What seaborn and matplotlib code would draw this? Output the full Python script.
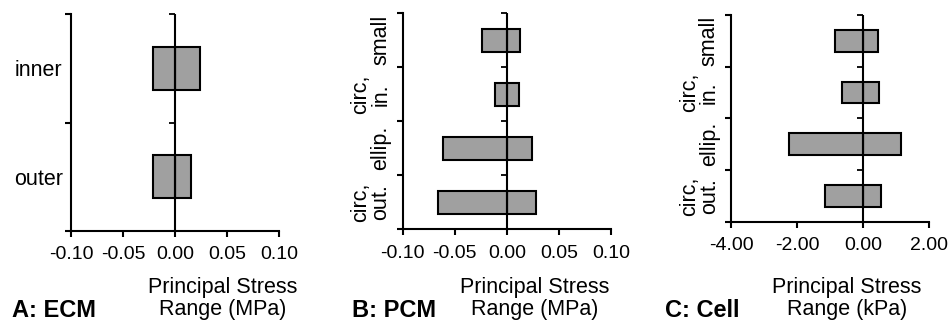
import matplotlib
matplotlib.use("Agg")
import matplotlib.pyplot as plt
import numpy as np
import pandas as pd
import seaborn as sns

sns.set_style("white")
plt.rcParams["font.family"] = ["Liberation Sans", "DejaVu Sans"]
plt.rcParams["text.color"] = "black"
plt.rcParams["xtick.color"] = "black"
plt.rcParams["ytick.color"] = "black"

# panel A: ECM
ecm_labels = ["inner", "outer"]
ecm_min = [-0.021, -0.021]
ecm_max = [0.024, 0.015]

# panel B: PCM
pcm_labels = ["small", "circ,\nin.", "ellip.", "circ,\nout."]
pcm_min = [-0.024, -0.011, -0.061, -0.066]
pcm_max = [0.013, 0.012, 0.024, 0.028]

# panel C: Cell
cell_labels = ["small", "circ,\nin.", "ellip.", "circ,\nout."]
cell_min = [-0.86, -0.64, -2.25, -1.16]
cell_max = [0.45, 0.49, 1.13, 0.54]

ecm_ticks = [-0.10, -0.05, 0.00, 0.05, 0.10]
pcm_ticks = [-0.10, -0.05, 0.00, 0.05, 0.10]
cell_ticks = [-4.0, -2.0, 0.0, 2.0]

BAR_COLOR = "#a0a0a0"


def range_panel(ax, labels, lo, hi, xticks, rotate, title, xlabel, bar_h,
                title_x, label_x):
    # floating bar drawn as two halves meeting at zero
    df = pd.DataFrame({"cat": labels, "lo": lo, "hi": hi})
    for col in ["hi", "lo"]:
        sns.barplot(data=df, x=col, y="cat", orient="h", color=BAR_COLOR,
                    saturation=1, edgecolor="black", linewidth=1.5,
                    width=bar_h, ax=ax)
    n = len(labels)
    ax.set_xlim(xticks[0], xticks[-1])
    ax.set_ylim(n - 0.5, -0.5)
    ax.axvline(0, color="black", lw=1.5, zorder=5)
    bounds = np.arange(n + 1) - 0.5
    ax.scatter(np.zeros(len(bounds)), bounds, marker=0, s=20, color="black",
               lw=1.3, zorder=6, clip_on=False)

    ax.set_xticks(xticks)
    ax.set_xticklabels(["{:.2f}".format(t) for t in xticks], fontsize=14)
    ax.set_yticks(bounds)
    ax.set_yticklabels([])
    ax.set_yticks(np.arange(n), minor=True)
    if rotate:
        ax.set_yticklabels(labels, minor=True, rotation=90, fontsize=15.5,
                           va="center", ha="right", multialignment="center",
                           linespacing=0.95)
        ax.tick_params(axis="y", which="minor", length=0, pad=8)
    else:
        ax.set_yticklabels(labels, minor=True, fontsize=15.5)
        ax.tick_params(axis="y", which="minor", length=0, pad=6)
    ax.tick_params(axis="both", which="major", direction="out", length=4,
                   width=1.5, color="black", left=True, bottom=True)
    ax.tick_params(axis="x", pad=7)
    ax.set_xlabel("")
    ax.set_ylabel("")
    for s in ["top", "right"]:
        ax.spines[s].set_visible(False)
    for s in ["left", "bottom"]:
        ax.spines[s].set_linewidth(1.5)
        ax.spines[s].set_color("black")

    fig = ax.figure
    fig.text(title_x, 0.025, title, fontsize=17, fontweight="bold",
             ha="left", va="baseline")
    fig.text(label_x, 0.03, xlabel, fontsize=15.5, ha="center",
             va="baseline", multialignment="center", linespacing=1.05)


fig = plt.figure(figsize=(9.48, 3.25), dpi=100)
ax_a = fig.add_axes([0.0749, 0.2892, 0.2194, 0.6677])
ax_b = fig.add_axes([0.4248, 0.2945, 0.2197, 0.6646])
ax_c = fig.add_axes([0.7711, 0.3178, 0.2092, 0.6360])

range_panel(ax_a, ecm_labels, ecm_min, ecm_max, ecm_ticks, False,
            "A: ECM", "Principal Stress\nRange (MPa)", 0.4, 0.013, 0.2345)
range_panel(ax_b, pcm_labels, pcm_min, pcm_max, pcm_ticks, True,
            "B: PCM", "Principal Stress\nRange (MPa)", 0.43, 0.371, 0.5635)
range_panel(ax_c, cell_labels, cell_min, cell_max, cell_ticks, True,
            "C: Cell", "Principal Stress\nRange (kPa)", 0.42, 0.701, 0.8935)

fig.savefig("out.png", dpi=100)
